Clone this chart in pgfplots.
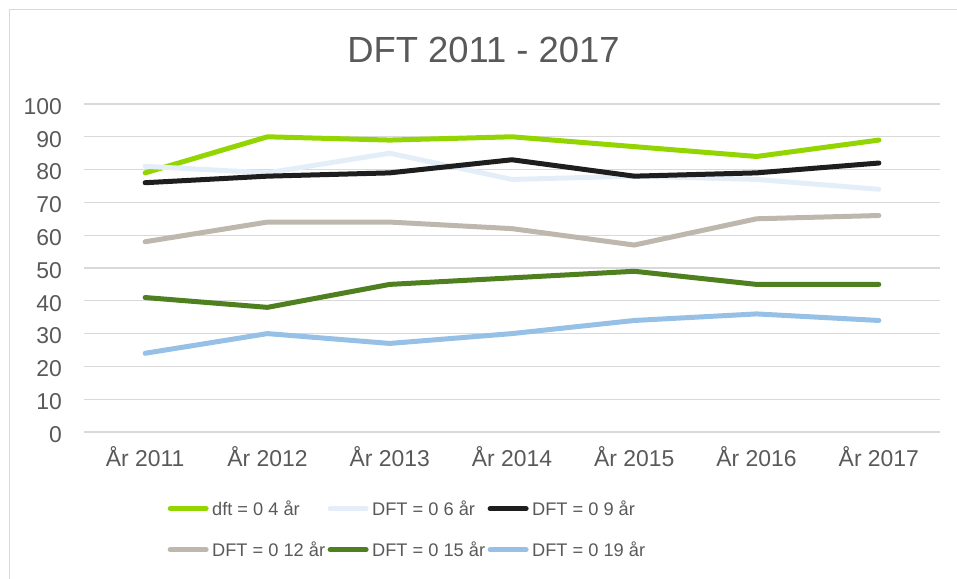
\documentclass[border=0pt]{standalone}
\usepackage{pgfplots}
\pgfplotsset{compat=1.18}
\usepackage{fontspec}
\setmainfont{Liberation Sans}
\definecolor{cGreenL}{HTML}{93D500}
\definecolor{cWhiteB}{HTML}{E4EEF8}
\definecolor{cBlack}{HTML}{1E1E1E}
\definecolor{cGray}{HTML}{BDB7AE}
\definecolor{cGreenD}{HTML}{4F801F}
\definecolor{cBlue}{HTML}{96C0E6}
\definecolor{labelgray}{HTML}{595959}
\definecolor{gridgray}{HTML}{D9D9D9}
\begin{document}
\begin{tikzpicture}
\useasboundingbox (0,0) rectangle (957bp,579bp);
\begin{scope}
\clip (0,0) rectangle (957bp,579bp);
\draw[color=gridgray, line width=1.5bp] (9.5bp,-20bp) rectangle (957.5bp,569.5bp);
\end{scope}
\node[anchor=base, font=\fontsize{36.5}{40}\selectfont, text=labelgray, inner sep=0] at (483.5bp,516bp) {DFT 2011 - 2017};
\begin{axis}[
  at={(84bp,147bp)}, anchor=south west,
  scale only axis, width=856bp, height=328bp,
  xmin=-0.5, xmax=6.5, ymin=0, ymax=100,
  xtick={0,1,2,3,4,5,6},
  xticklabels={År 2011,År 2012,År 2013,År 2014,År 2015,År 2016,År 2017},
  ytick={0,10,20,30,40,50,60,70,80,90,100},
  axis line style={draw=none},
  major tick length=0pt,
  ymajorgrids, grid style={color=gridgray, line width=1.2bp},
  tick label style={font=\fontsize{23}{26}\selectfont, text=labelgray},
  /pgf/number format/assume math mode=true,
  yticklabel style={anchor=east, inner sep=0pt, xshift=-22bp, yshift=-2.5bp},
  xticklabel style={anchor=base, inner sep=0pt, yshift=-34bp},
  every axis plot/.append style={line width=5bp, line cap=round, line join=round},
  legend columns=3,
  legend cell align=left,
  legend image code/.code={\draw[#1] (2.5bp,0.5bp) -- (38.5bp,0.5bp);},
  legend style={at={(0.0975,-0.2095)}, anchor=north west, draw=none, fill=none,
    inner sep=0pt, font=\fontsize{18.3}{20}\selectfont, text=labelgray,
    nodes={inner sep=1.5bp, text height=13.5bp, text depth=0bp},
    row sep=24.5bp,
    /tikz/every odd column/.append style={column sep=2bp},
    /tikz/every even column/.append style={column sep=1bp}},
]
\addplot[cGreenL] coordinates {(0,79) (1,90) (2,89) (3,90) (4,87) (5,84) (6,89)};
\addlegendentry{dft = 0 4 år}
\addplot[cWhiteB] coordinates {(0,81) (1,79) (2,85) (3,77) (4,78) (5,77) (6,74)};
\addlegendentry{DFT = 0 6 år}
\addplot[cBlack] coordinates {(0,76) (1,78) (2,79) (3,83) (4,78) (5,79) (6,82)};
\addlegendentry{DFT = 0 9 år}
\addplot[cGray] coordinates {(0,58) (1,64) (2,64) (3,62) (4,57) (5,65) (6,66)};
\addlegendentry{DFT = 0 12 år}
\addplot[cGreenD] coordinates {(0,41) (1,38) (2,45) (3,47) (4,49) (5,45) (6,45)};
\addlegendentry{DFT = 0 15 år}
\addplot[cBlue] coordinates {(0,24) (1,30) (2,27) (3,30) (4,34) (5,36) (6,34)};
\addlegendentry{DFT = 0 19 år}
\end{axis}
\end{tikzpicture}
\end{document}
